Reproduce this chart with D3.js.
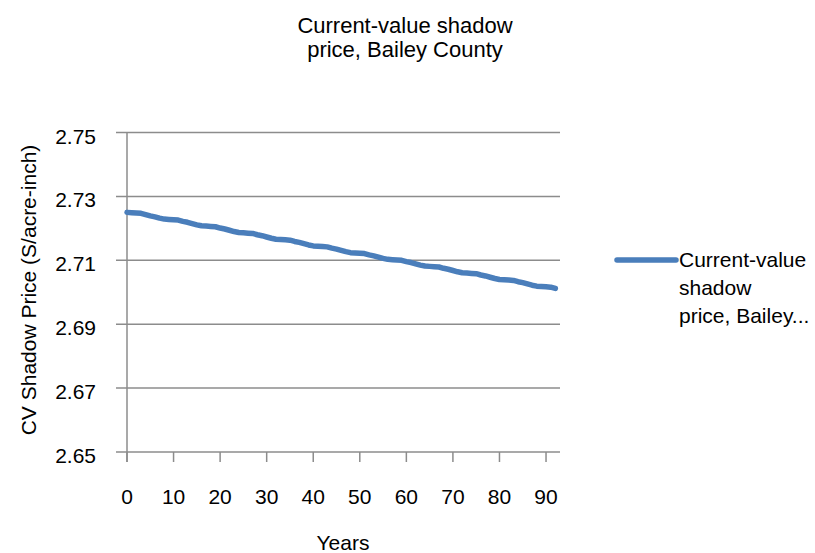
<!DOCTYPE html>
<html>
<head>
<meta charset="utf-8">
<script src="https://cdn.jsdelivr.net/npm/d3@7"></script>
<style>
  html, body { margin: 0; padding: 0; background: #fff; }
  svg { display: block; font-family: "Liberation Sans", Arial, sans-serif; }
</style>
</head>
<body>
<svg id="chart" width="815" height="553"></svg>
<script>
const years = d3.range(0, 93);
const shadowPrice = [
  2.7250, 2.7249, 2.7248, 2.7247, 2.7243, 2.7239, 2.7236, 2.7232, 2.7229, 2.7228,
  2.7227, 2.7226, 2.7222, 2.7219, 2.7215, 2.7211, 2.7208, 2.7207, 2.7206, 2.7205,
  2.7201, 2.7198, 2.7194, 2.7190, 2.7187, 2.7186, 2.7185, 2.7184, 2.7180, 2.7177,
  2.7173, 2.7169, 2.7166, 2.7165, 2.7164, 2.7163, 2.7159, 2.7156, 2.7152, 2.7148,
  2.7145, 2.7144, 2.7143, 2.7142, 2.7138, 2.7135, 2.7131, 2.7127, 2.7124, 2.7123,
  2.7122, 2.7121, 2.7117, 2.7114, 2.7110, 2.7106, 2.7103, 2.7102, 2.7101, 2.7100,
  2.7096, 2.7093, 2.7089, 2.7085, 2.7082, 2.7081, 2.7080, 2.7079, 2.7075, 2.7072,
  2.7068, 2.7064, 2.7061, 2.7060, 2.7059, 2.7058, 2.7054, 2.7051, 2.7047, 2.7043,
  2.7040, 2.7039, 2.7038, 2.7037, 2.7033, 2.7030, 2.7026, 2.7022, 2.7019, 2.7018,
  2.7017, 2.7016, 2.7012
];
const yTicks = [2.65, 2.67, 2.69, 2.71, 2.73, 2.75];
const xTicks = [0, 10, 20, 30, 40, 50, 60, 70, 80, 90];
const titleLines = ["Current-value shadow", "price, Bailey County"];
const legendLines = ["Current-value", "shadow", "price, Bailey..."];
const xTitle = "Years";
const yTitle = "CV Shadow Price (S/acre-inch)";

const svg = d3.select("#chart");
const gridColor = "#8c8c8c";
const lineColor = "#4a7ebb";
const fs = 21;

const x = d3.scaleLinear().domain([0, 93]).range([127, 560]);
const y = d3.scaleLinear().domain([2.65, 2.75]).range([452, 132.5]);

// gridlines
svg.append("g").selectAll("line").data(yTicks).join("line")
  .attr("x1", 116).attr("x2", x(93))
  .attr("y1", d => y(d)).attr("y2", d => y(d))
  .attr("stroke", gridColor).attr("stroke-width", 1.5);

// y axis line
svg.append("line").attr("x1", x(0)).attr("x2", x(0))
  .attr("y1", y(2.75)).attr("y2", y(2.65) + 10)
  .attr("stroke", gridColor).attr("stroke-width", 1.5);

// x tick marks
svg.append("g").selectAll("line").data(xTicks).join("line")
  .attr("x1", d => x(d)).attr("x2", d => x(d))
  .attr("y1", y(2.65)).attr("y2", y(2.65) + 10)
  .attr("stroke", gridColor).attr("stroke-width", 1.5);

// y tick labels
svg.append("g").selectAll("text").data(yTicks).join("text")
  .attr("x", 96).attr("y", d => y(d) + 11)
  .attr("text-anchor", "end").attr("font-size", fs).attr("fill", "#000")
  .text(d => d.toFixed(2));

// x tick labels
svg.append("g").selectAll("text").data(xTicks).join("text")
  .attr("x", d => x(d)).attr("y", 504)
  .attr("text-anchor", "middle").attr("font-size", fs).attr("fill", "#000")
  .text(d => d);

// line
const line = d3.line().x((d, i) => x(years[i])).y(d => y(d));
svg.append("path").datum(shadowPrice)
  .attr("d", line).attr("fill", "none")
  .attr("stroke", lineColor).attr("stroke-width", 5.5)
  .attr("stroke-linecap", "round").attr("stroke-linejoin", "round");

// title
svg.append("text").attr("text-anchor", "middle").attr("font-size", 22)
  .selectAll("tspan").data(titleLines).join("tspan")
  .attr("x", 405).attr("y", (d, i) => 33 + i * 24).text(d => d);

// axis titles
svg.append("text").attr("x", 343).attr("y", 550).attr("text-anchor", "middle")
  .attr("font-size", fs).text(xTitle);
svg.append("text").attr("transform", "translate(36,290) rotate(-90)")
  .attr("text-anchor", "middle").attr("font-size", fs).text(yTitle);

// legend
svg.append("line").attr("x1", 617).attr("x2", 676).attr("y1", 260).attr("y2", 260)
  .attr("stroke", lineColor).attr("stroke-width", 5.5).attr("stroke-linecap", "round");
svg.append("text").attr("font-size", fs)
  .selectAll("tspan").data(legendLines).join("tspan")
  .attr("x", 679).attr("y", (d, i) => 267 + i * 28).text(d => d);
</script>
</body>
</html>
